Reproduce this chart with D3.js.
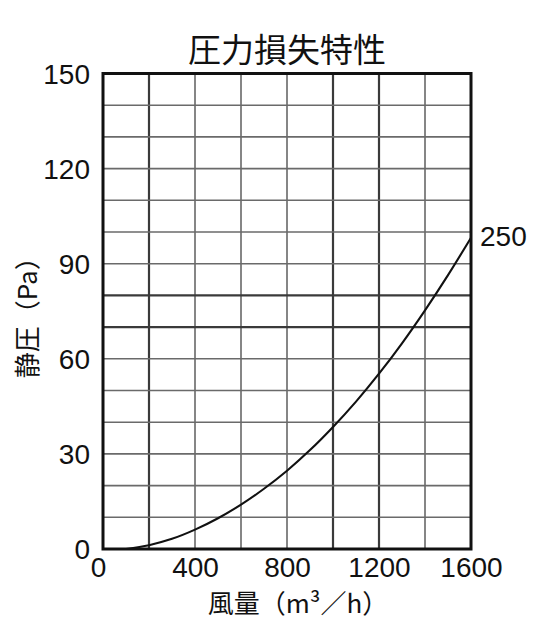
<!DOCTYPE html>
<html>
<head>
<meta charset="utf-8">
<script src="https://cdn.jsdelivr.net/npm/d3@7"></script>
<style>
  html, body { margin: 0; padding: 0; background: #fff; }
  svg { display: block; }
</style>
</head>
<body>
<svg id="chart" width="542" height="637"></svg>
<script>
// ---- data ----
const title = "圧力損失特性";
const xLabel = "風量（m³／h）";
const yLabel = "静圧（Pa）";
const seriesName = "250";
const flow = [100, 200, 300, 400, 500, 600, 700, 800, 900, 1000, 1100, 1200, 1300, 1400, 1500, 1600];
const pressure = [0, 1.2, 3.2, 6.1, 9.7, 14.0, 19.0, 24.7, 31.2, 38.5, 46.5, 55.3, 64.9, 75.3, 86.4, 98.2];
const xTicks = [0, 400, 800, 1200, 1600];
const yTicks = [0, 30, 60, 90, 120, 150];
const xGrid = [200, 400, 600, 800, 1000, 1200, 1400];
const yGrid = [10, 20, 30, 40, 50, 60, 70, 80, 90, 100, 110, 120, 130, 140];
const xGridDark = [200, 1000, 1200];
const yGridDark = [70, 80];

// ---- layout ----
const svg = d3.select("#chart");
const pLeft = 103, pRight = 471, pTop = 73.5, pBottom = 549;
const x = d3.scaleLinear().domain([0, 1600]).range([pLeft, pRight]);
const y = d3.scaleLinear().domain([0, 150]).range([pBottom, pTop]);
const numFont = "'Liberation Sans', Arial, Helvetica, sans-serif";
const cjkFont = "'Noto Sans CJK JP', sans-serif";

svg.append("rect").attr("width", 542).attr("height", 637).attr("fill", "#fff");

// grid
const g = svg.append("g");
g.selectAll("line.vx").data(xGrid).enter().append("line")
  .attr("x1", d => x(d)).attr("x2", d => x(d))
  .attr("y1", pTop).attr("y2", pBottom)
  .attr("stroke", d => xGridDark.includes(d) ? "#3a3a3a" : "#5e5e5e")
  .attr("stroke-width", d => xGridDark.includes(d) ? 2.2 : 1.5);
g.selectAll("line.hy").data(yGrid).enter().append("line")
  .attr("x1", pLeft).attr("x2", pRight)
  .attr("y1", d => y(d)).attr("y2", d => y(d))
  .attr("stroke", d => yGridDark.includes(d) ? "#3a3a3a" : "#6a6a6a")
  .attr("stroke-width", d => yGridDark.includes(d) ? 2.2 : 1.6);

// curve
const pts = flow.map((f, i) => [f, pressure[i]]);
const line = d3.line().x(d => x(d[0])).y(d => y(d[1])).curve(d3.curveCatmullRom.alpha(0.5));
svg.append("path").datum(pts).attr("d", line)
  .attr("fill", "none").attr("stroke", "#111").attr("stroke-width", 2.1);

// frame
svg.append("rect")
  .attr("x", pLeft).attr("y", pTop)
  .attr("width", pRight - pLeft).attr("height", pBottom - pTop)
  .attr("fill", "none").attr("stroke", "#111").attr("stroke-width", 3);

// axes (labels only)
const xAxis = d3.axisBottom(x).tickValues(xTicks).tickSize(0).tickPadding(0).tickFormat(d3.format("d"));
const xa = svg.append("g").attr("transform", `translate(0,${pBottom})`).call(xAxis);
xa.select(".domain").remove();
xa.selectAll("text")
  .attr("font-family", numFont).attr("font-size", 28).attr("fill", "#111")
  .attr("dy", null).attr("y", 28)
  .attr("dx", d => d === 0 ? -5 : 0);

const yAxis = d3.axisLeft(y).tickValues(yTicks).tickSize(0).tickPadding(13).tickFormat(d3.format("d"));
const ya = svg.append("g").attr("transform", `translate(${pLeft},0)`).call(yAxis);
ya.select(".domain").remove();
ya.selectAll("text")
  .attr("font-family", numFont).attr("font-size", 28).attr("fill", "#111")
  .attr("dy", "0.35em");

// title
svg.append("text").attr("x", (pLeft + pRight) / 2).attr("y", 62)
  .attr("text-anchor", "middle").attr("font-family", cjkFont)
  .attr("font-size", 33).attr("fill", "#111").text(title);

// x label
svg.append("text").attr("x", (pLeft + pRight) / 2 + 11).attr("y", 613)
  .attr("text-anchor", "middle").attr("font-family", cjkFont)
  .attr("font-size", 26).attr("fill", "#111").text(xLabel);

// y label
svg.append("text").attr("transform", `translate(37,${(pTop + pBottom) / 2}) rotate(-90)`)
  .attr("text-anchor", "middle").attr("font-family", cjkFont)
  .attr("font-size", 26).attr("fill", "#111").text(yLabel);

// series label
const last = pts[pts.length - 1];
svg.append("text").attr("x", x(last[0]) + 9).attr("y", y(last[1]) - 2)
  .attr("dy", "0.35em").attr("font-family", numFont)
  .attr("font-size", 28).attr("fill", "#111").text(seriesName);
</script>
</body>
</html>
